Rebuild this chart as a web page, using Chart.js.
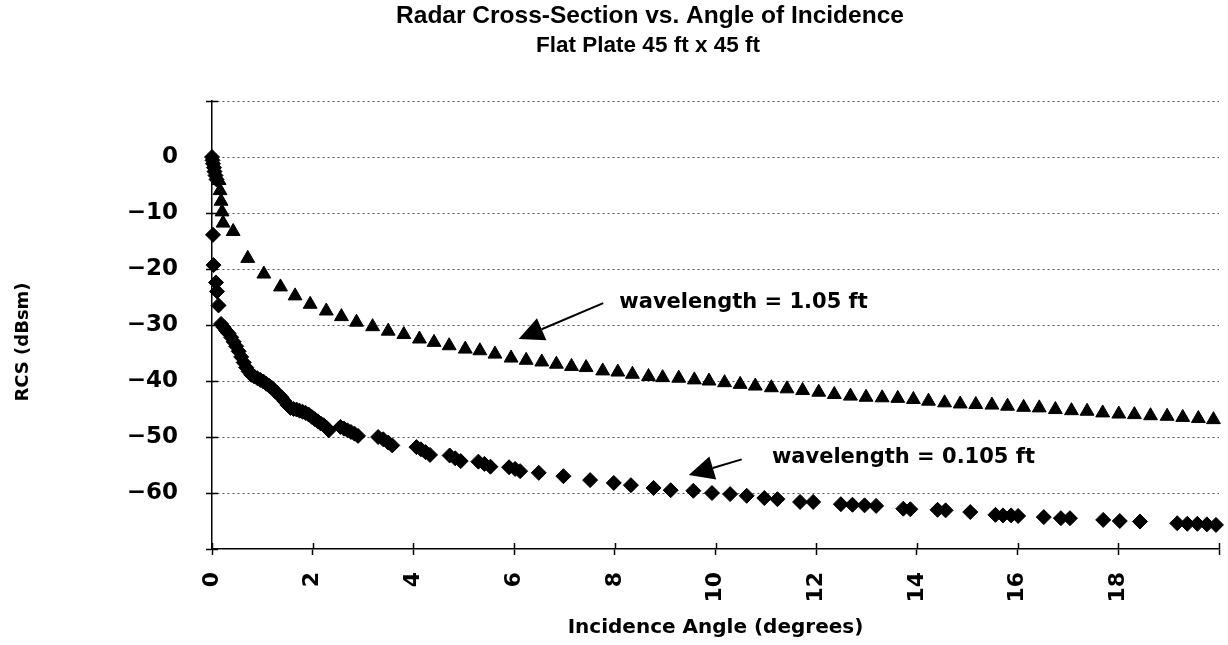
<!DOCTYPE html>
<html>
<head>
<meta charset="utf-8">
<title>Radar Cross-Section vs. Angle of Incidence</title>
<script src="https://cdn.jsdelivr.net/npm/chart.js@4/dist/chart.umd.min.js"></script>
<style>
  html, body { margin: 0; padding: 0; background: #ffffff; overflow: hidden; }
  #wrap { position: relative; width: 1228px; height: 645px; }
</style>
</head>
<body>
<div id="wrap"><canvas id="rcs" width="1228" height="645"></canvas></div>
<script>
// ---- text ----
const titleText = 'Radar Cross-Section vs. Angle of Incidence';
const subtitleText = 'Flat Plate 45 ft x 45 ft';
const xAxisTitle = 'Incidence Angle (degrees)';
const yAxisTitle = 'RCS (dBsm)';

// ---- axis ticks ----
const xTickLabels = [0, 2, 4, 6, 8, 10, 12, 14, 16, 18];
const yTickLabels = [0, -10, -20, -30, -40, -50, -60];

// ---- wavelength = 1.05 ft (triangles): angle in degrees, RCS in dBsm ----
const angleLong = [
  0.14, 0.16, 0.18, 0.20, 0.22, 0.42, 0.71, 1.03, 1.36, 1.65,
  1.95, 2.27, 2.57, 2.87, 3.19, 3.50, 3.81, 4.12, 4.41, 4.71,
  5.03, 5.32, 5.62, 5.94, 6.24, 6.55, 6.84, 7.14, 7.43, 7.76,
  8.06, 8.35, 8.67, 8.95, 9.27, 9.58, 9.87, 10.18, 10.49, 10.79,
  11.11, 11.42, 11.73, 12.05, 12.36, 12.68, 12.99, 13.31, 13.62, 13.93,
  14.23, 14.55, 14.86, 15.17, 15.49, 15.80, 16.12, 16.43, 16.75, 17.07,
  17.38, 17.69, 18.01, 18.32, 18.64, 18.97, 19.28, 19.59, 19.89
];
const rcsLong = [
  -4.2, -6.0, -7.9, -9.8, -11.8, -13.3, -18.1, -20.9, -23.2, -24.8,
  -26.3, -27.5, -28.5, -29.5, -30.3, -31.1, -31.7, -32.5, -33.1, -33.7,
  -34.3, -34.6, -35.2, -35.9, -36.3, -36.6, -37.0, -37.4, -37.6, -38.2,
  -38.4, -38.8, -39.2, -39.4, -39.5, -39.8, -40.0, -40.3, -40.6, -40.9,
  -41.2, -41.4, -41.7, -42.0, -42.4, -42.7, -42.9, -43.0, -43.1, -43.3,
  -43.6, -43.9, -44.1, -44.2, -44.3, -44.5, -44.7, -44.8, -45.1, -45.3,
  -45.4, -45.7, -45.9, -46.0, -46.2, -46.3, -46.5, -46.7, -46.9
];

// ---- wavelength = 0.105 ft (diamonds): angle in degrees, RCS in dBsm ----
const angleShort = [
  0.00, 0.01, 0.02, 0.04, 0.05, 0.07, 0.09,
  0.02, 0.03, 0.08, 0.10, 0.13,
  0.18, 0.23, 0.28, 0.33, 0.38, 0.43, 0.48, 0.53, 0.58, 0.63,
  0.68, 0.73, 0.78, 0.84, 0.90, 0.96, 1.02, 1.08, 1.14, 1.20,
  1.26, 1.32, 1.38, 1.44, 1.50, 1.56, 1.62, 1.68, 1.74, 1.80,
  1.86, 1.92, 1.98, 2.04, 2.10, 2.16, 2.22, 2.28, 2.32,
  2.55, 2.62, 2.69, 2.76, 2.83, 2.90,
  3.30, 3.40, 3.50, 3.58,
  4.06, 4.15, 4.24, 4.33,
  4.72, 4.83, 4.94,
  5.29, 5.41, 5.53,
  5.90, 6.02, 6.12,
  6.49, 6.98, 7.51, 7.98, 8.32, 8.77, 9.11, 9.56, 9.93, 10.29,
  10.62, 10.97, 11.23, 11.68, 11.94,
  12.49, 12.72, 12.96, 13.19,
  13.73, 13.87,
  14.41, 14.57,
  15.06,
  15.56, 15.71, 15.87, 16.01,
  16.52,
  16.86, 17.04,
  17.70, 18.03, 18.43,
  19.17, 19.37, 19.57, 19.76, 19.94
];
const rcsShort = [
  0.0, -0.6, -1.2, -1.9, -2.6, -3.3, -4.0,
  -13.9, -19.3, -22.4, -24.0, -26.5,
  -29.8, -30.4, -31.0, -31.5, -32.2, -33.0, -33.8, -34.7, -35.7, -36.7,
  -37.6, -38.3, -38.9, -39.2, -39.5, -39.8, -40.1, -40.5, -40.9, -41.3,
  -41.9, -42.4, -42.9, -43.6, -44.3, -44.8, -45.0, -45.1, -45.3, -45.5,
  -45.7, -46.0, -46.4, -46.8, -47.2, -47.6, -47.9, -48.4, -48.8,
  -48.2, -48.5, -48.8, -49.1, -49.4, -49.8,
  -50.0, -50.4, -51.0, -51.5,
  -51.8, -52.2, -52.7, -53.2,
  -53.3, -53.8, -54.3,
  -54.4, -54.8, -55.3,
  -55.4, -55.7, -56.1,
  -56.4, -57.0, -57.7, -58.2, -58.6, -59.1, -59.5, -59.6, -60.0, -60.2,
  -60.5, -60.9, -61.1, -61.6, -61.6,
  -62.0, -62.1, -62.2, -62.3,
  -62.8, -62.9,
  -63.0, -63.1,
  -63.4,
  -63.9, -64.0, -64.0, -64.1,
  -64.3,
  -64.5, -64.5,
  -64.8, -65.0, -65.1,
  -65.4, -65.5, -65.5, -65.6, -65.7
];

// ---- callouts, placed in data units ----
const callouts = [
  { label: 'wavelength = 1.05 ft',  textAt: [8.09, -26.0],   from: [7.77, -26.1],  to: [6.09, -32.5] },
  { label: 'wavelength = 0.105 ft', textAt: [11.12, -53.75], from: [10.52, -54.0], to: [9.47, -56.8] }
];

const FONT = '"DejaVu Sans", "Liberation Sans", Arial, sans-serif';
const HEAD_FONT = '"Liberation Sans", Arial, Helvetica, sans-serif';
Chart.defaults.font.family = FONT;
Chart.defaults.color = '#000';

const toPoints = (xs, ys) => xs.map((v, i) => ({ x: v, y: ys[i] }));
const signed = v => (v < 0 ? '\u2212' + Math.abs(v) : String(v));

// Headings above the plot and the vertical axis caption
const headings = {
  id: 'headings',
  afterDraw(chart) {
    const ctx = chart.ctx;
    ctx.save();
    ctx.fillStyle = '#000';
    ctx.textAlign = 'center';
    ctx.textBaseline = 'middle';
    ctx.font = 'bold 24.5px ' + HEAD_FONT;
    ctx.fillText(titleText, 650, 16);
    ctx.font = 'bold 22.5px ' + HEAD_FONT;
    ctx.fillText(subtitleText, 648, 46);
    ctx.translate(23, 342);
    ctx.rotate(-Math.PI / 2);
    ctx.font = 'bold 18px ' + FONT;
    ctx.fillText(yAxisTitle, 0, 0);
    ctx.restore();
  }
};

// Tick marks that cross the axes (the inner half of each tick)
const crossTicks = {
  id: 'crossTicks',
  afterDraw(chart) {
    const { ctx, chartArea: a, scales: { x, y } } = chart;
    ctx.save();
    ctx.strokeStyle = '#000';
    ctx.lineWidth = 1.5;
    ctx.beginPath();
    y.ticks.forEach(t => {
      const py = Math.round(y.getPixelForValue(t.value)) + 0.5;
      ctx.moveTo(a.left, py); ctx.lineTo(a.left + 6, py);
    });
    x.ticks.forEach(t => {
      const px = Math.round(x.getPixelForValue(t.value)) + 0.5;
      ctx.moveTo(px, a.bottom); ctx.lineTo(px, a.bottom - 6);
    });
    ctx.stroke();
    ctx.restore();
  }
};

// Arrow callouts naming each curve
const calloutPlugin = {
  id: 'callouts',
  afterDatasetsDraw(chart) {
    const { ctx, scales: { x, y } } = chart;
    ctx.save();
    ctx.fillStyle = '#000';
    ctx.strokeStyle = '#000';
    callouts.forEach(c => {
      const fx = x.getPixelForValue(c.from[0]), fy = y.getPixelForValue(c.from[1]);
      const tx = x.getPixelForValue(c.to[0]),   ty = y.getPixelForValue(c.to[1]);
      const dx = fx - tx, dy = fy - ty, len = Math.hypot(dx, dy);
      const ux = dx / len, uy = dy / len;
      const headLen = 25, halfW = 12;
      const bx = tx + ux * headLen, by = ty + uy * headLen;
      ctx.lineWidth = 2;
      ctx.beginPath();
      ctx.moveTo(fx, fy);
      ctx.lineTo(bx, by);
      ctx.stroke();
      ctx.beginPath();
      ctx.moveTo(tx, ty);
      ctx.lineTo(bx - uy * halfW, by + ux * halfW);
      ctx.lineTo(bx + uy * halfW, by - ux * halfW);
      ctx.closePath();
      ctx.fill();
      ctx.font = 'bold 21px ' + FONT;
      ctx.textAlign = 'left';
      ctx.textBaseline = 'middle';
      ctx.fillText(c.label, x.getPixelForValue(c.textAt[0]), y.getPixelForValue(c.textAt[1]));
    });
    ctx.restore();
  }
};

new Chart(document.getElementById('rcs'), {
  type: 'scatter',
  data: {
    datasets: [
      {
        label: 'wavelength = 1.05 ft',
        data: toPoints(angleLong, rcsLong),
        pointStyle: 'triangle',
        pointRadius: 8,
        pointBackgroundColor: '#000',
        pointBorderColor: '#000',
        pointBorderWidth: 1,
        clip: false
      },
      {
        label: 'wavelength = 0.105 ft',
        data: toPoints(angleShort, rcsShort),
        pointStyle: 'rectRot',
        pointRadius: 7.5,
        pointBackgroundColor: '#000',
        pointBorderColor: '#000',
        pointBorderWidth: 1,
        clip: false
      }
    ]
  },
  options: {
    responsive: false,
    animation: false,
    events: [],
    layout: { padding: { top: 101, right: 0, bottom: 0, left: 0 } },
    plugins: {
      legend: { display: false },
      tooltip: { enabled: false },
      title: { display: false }
    },
    scales: {
      x: {
        type: 'linear',
        min: 0,
        max: 20,
        afterFit(scale) { scale.height = 96; scale.paddingLeft = 0; scale.paddingRight = 0; },
        ticks: {
          stepSize: 2,
          autoSkip: false,
          minRotation: 90,
          maxRotation: 90,
          padding: 17,
          color: '#000',
          font: { size: 22, weight: 'bold' },
          callback: v => (xTickLabels.includes(v) ? String(v) : '')
        },
        grid: {
          drawOnChartArea: false,
          tickLength: 6,
          tickColor: '#000',
          tickWidth: 1.5
        },
        border: { display: true, color: '#000', width: 1.5 },
        title: {
          display: true,
          text: xAxisTitle,
          color: '#000',
          font: { size: 20, weight: 'bold' },
          padding: { top: 0, bottom: 5 }
        }
      },
      y: {
        type: 'linear',
        min: -70,
        max: 10,
        afterFit(scale) { scale.width = 212; scale.paddingTop = 0; scale.paddingBottom = 0; },
        ticks: {
          stepSize: 10,
          padding: 28,
          color: '#000',
          font: { size: 23, weight: 'bold' },
          callback: v => (yTickLabels.includes(v) ? signed(v) : '')
        },
        grid: {
          color: ctx => (ctx.tick && ctx.tick.value === -70 ? 'rgba(0,0,0,0)' : '#555'),
          lineWidth: 1,
          tickLength: 6,
          tickColor: '#000',
          tickWidth: 1.5,
          tickBorderDash: []
        },
        border: { display: true, color: '#000', width: 1.5, dash: [2, 3] },
        title: { display: false }
      }
    }
  },
  plugins: [headings, crossTicks, calloutPlugin]
});
</script>
</body>
</html>
